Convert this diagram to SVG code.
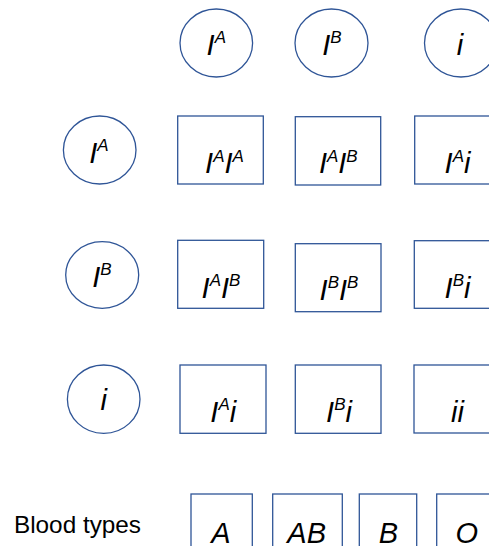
<svg xmlns="http://www.w3.org/2000/svg" width="489" height="546" viewBox="0 0 489 546">
<style>
.n{fill:#ffffff;stroke:#2F5597;stroke-width:1.3}
.t{font-family:"Liberation Sans",Arial,sans-serif;font-style:italic;font-size:29px;fill:#000;text-anchor:middle}
.s{font-size:17px}
.lbl{font-family:"Liberation Sans",Arial,sans-serif;font-size:24px;fill:#000}
</style>
<rect width="489" height="546" fill="#ffffff"/>
<g id="connectors"></g>
<g id="col-IA"><ellipse class="n" cx="216.3" cy="43" rx="36.3" ry="34"/><text class="t" x="216.3" y="55">I<tspan class="s" dy="-11.6">A</tspan></text></g>
<g id="col-IB"><ellipse class="n" cx="331.5" cy="43" rx="36.5" ry="34"/><text class="t" x="332" y="55">I<tspan class="s" dy="-11.6">B</tspan></text></g>
<g id="col-i"><ellipse class="n" cx="461" cy="43" rx="36.5" ry="34"/><text class="t" x="460" y="55">i</text></g>

<g id="row-IA"><ellipse class="n" cx="99.7" cy="150" rx="36.3" ry="34"/><text class="t" x="99" y="162.7">I<tspan class="s" dy="-11.6">A</tspan></text></g>
<g id="row-IB"><ellipse class="n" cx="102.2" cy="275" rx="36.5" ry="33.3"/><text class="t" x="102" y="286.7">I<tspan class="s" dy="-11.6">B</tspan></text></g>
<g id="row-i"><ellipse class="n" cx="103.7" cy="399.2" rx="36.3" ry="34.2"/><text class="t" x="103.7" y="410">i</text></g>

<g id="c-IAIA"><rect class="n" x="177.7" y="116" width="85.6" height="68"/><text class="t" x="224.5" y="173.3">I<tspan class="s" dy="-11.6">A</tspan><tspan dy="11.6">I</tspan><tspan class="s" dy="-11.6">A</tspan></text></g>
<g id="c-IAIB-1"><rect class="n" x="295.3" y="116.7" width="85.4" height="68.3"/><text class="t" x="338.3" y="173.3">I<tspan class="s" dy="-11.6">A</tspan><tspan dy="11.6">I</tspan><tspan class="s" dy="-11.6">B</tspan></text></g>
<g id="c-IAi"><rect class="n" x="414.7" y="116" width="85.6" height="68"/><text class="t" x="457.5" y="173.3">I<tspan class="s" dy="-11.6">A</tspan><tspan dy="11.6">i</tspan></text></g>

<g id="c-IAIB-2"><rect class="n" x="177.7" y="240.3" width="86" height="68"/><text class="t" x="221" y="297.7">I<tspan class="s" dy="-11.6">A</tspan><tspan dy="11.6">I</tspan><tspan class="s" dy="-11.6">B</tspan></text></g>
<g id="c-IBIB"><rect class="n" x="295.3" y="243.7" width="85.7" height="68"/><text class="t" x="339" y="300">I<tspan class="s" dy="-11.6">B</tspan><tspan dy="11.6">I</tspan><tspan class="s" dy="-11.6">B</tspan></text></g>
<g id="c-IBi"><rect class="n" x="414.3" y="240.7" width="86" height="67.6"/><text class="t" x="457.5" y="297.7">I<tspan class="s" dy="-11.6">B</tspan><tspan dy="11.6">i</tspan></text></g>

<g id="c-IAi-2"><rect class="n" x="180" y="365" width="86" height="68.3"/><text class="t" x="223.3" y="421.7">I<tspan class="s" dy="-11.6">A</tspan><tspan dy="11.6">i</tspan></text></g>
<g id="c-IBi-2"><rect class="n" x="295.3" y="365" width="85.7" height="68.3"/><text class="t" x="339" y="421.7">I<tspan class="s" dy="-11.6">B</tspan><tspan dy="11.6">i</tspan></text></g>
<g id="c-ii"><rect class="n" x="414" y="365" width="86" height="68"/><text class="t" x="457.5" y="421.7">ii</text></g>

<g id="label"><text class="lbl" x="14" y="533.3" textLength="127" lengthAdjust="spacingAndGlyphs">Blood types</text></g>
<g id="bt-A"><rect class="n" x="191" y="494" width="61.3" height="70"/><text class="t" x="221" y="543">A</text></g>
<g id="bt-AB"><rect class="n" x="272.7" y="494" width="69.6" height="70"/><text class="t" x="306.7" y="543">AB</text></g>
<g id="bt-B"><rect class="n" x="359.3" y="494" width="57.4" height="70"/><text class="t" x="388.3" y="543">B</text></g>
<g id="bt-O"><rect class="n" x="436.7" y="494" width="70" height="70"/><text class="t" x="466.7" y="543">O</text></g>
</svg>
